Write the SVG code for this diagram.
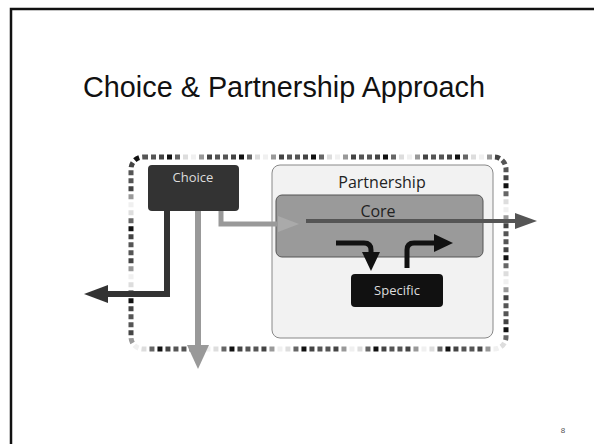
<svg xmlns="http://www.w3.org/2000/svg" xmlns:xlink="http://www.w3.org/1999/xlink" width="594" height="444" viewBox="0 0 594 444">
<style>
.lbl{font-family:"Open Sans","Liberation Sans",sans-serif;text-anchor:middle}
.title{font-family:"Liberation Sans",Arial,sans-serif;font-size:29px;fill:#111;text-anchor:middle}
.dot{fill:none;stroke-width:5;stroke-dasharray:5 67}
</style>
<defs>
<rect id="outline" x="131" y="157" width="375" height="192" rx="12" ry="12"/>
</defs>
<rect x="0" y="0" width="594" height="444" fill="#fff"/>
<path d="M11,444 V9 H594" fill="none" stroke="#111" stroke-width="2.5"/>
<text class="title" x="284" y="97" textLength="402" lengthAdjust="spacingAndGlyphs">Choice &amp; Partnership Approach</text>
<g id="boundary" class="dot">
<use xlink:href="#outline" stroke="#555" stroke-dashoffset="0"/>
<use xlink:href="#outline" stroke="#555" stroke-dashoffset="-8"/>
<use xlink:href="#outline" stroke="#444" stroke-dashoffset="-16"/>
<use xlink:href="#outline" stroke="#111" stroke-dashoffset="-24"/>
<use xlink:href="#outline" stroke="#666" stroke-dashoffset="-32"/>
<use xlink:href="#outline" stroke="#ddd" stroke-dashoffset="-40"/>
<use xlink:href="#outline" stroke="#f0f0f0" stroke-dashoffset="-48"/>
<use xlink:href="#outline" stroke="#999" stroke-dashoffset="-56"/>
<use xlink:href="#outline" stroke="#444" stroke-dashoffset="-64"/>
</g>
<g id="partnership">
<rect x="272" y="165" width="221" height="173" rx="8" fill="#f2f2f2" stroke="#888" stroke-width="1"/>
<text class="lbl" x="382" y="188" font-size="16" fill="#222">Partnership</text>
</g>
<g id="core">
<rect x="276" y="195" width="207" height="62" rx="6" fill="#9a9a9a" stroke="#555" stroke-width="1"/>
<text class="lbl" x="378" y="217" font-size="16" fill="#222">Core</text>
</g>
<g id="choice">
<rect x="148" y="165" width="91" height="46" rx="4" fill="#333"/>
<text class="lbl" x="193" y="182" font-size="13" fill="#ddd">Choice</text>
</g>
<g id="specific">
<rect x="351" y="274" width="92" height="33" rx="4" fill="#111"/>
<text class="lbl" x="397" y="295" font-size="13" fill="#ddd">Specific</text>
</g>
<g id="connectors">
<path d="M167,211 V294 H104" fill="none" stroke="#333" stroke-width="6"/>
<polygon points="84,294 108,285 108,303" fill="#333"/>
<path d="M198,211 V348" fill="none" stroke="#999" stroke-width="6"/>
<polygon points="198,369 187,345 209,345" fill="#999"/>
<path d="M221,211 V224 H282" fill="none" stroke="#999" stroke-width="5"/>
<polygon points="299,224 278,216 278,232" fill="#aaa"/>
<path d="M306,221 H518" fill="none" stroke="#555" stroke-width="4"/>
<polygon points="537,221 515,213 515,229" fill="#555"/>
<path d="M336,243 H364 Q371,243 371,250 V255" fill="none" stroke="#111" stroke-width="5"/>
<polygon points="371,271 362,252 380,252" fill="#111"/>
<path d="M407,268 V250 Q407,243 414,243 H436" fill="none" stroke="#111" stroke-width="5"/>
<polygon points="453,243 434,234 434,252" fill="#111"/>
</g>
<text x="563" y="433" font-family="'Liberation Sans',Arial,sans-serif" font-size="8" fill="#555" text-anchor="middle">8</text>
</svg>
